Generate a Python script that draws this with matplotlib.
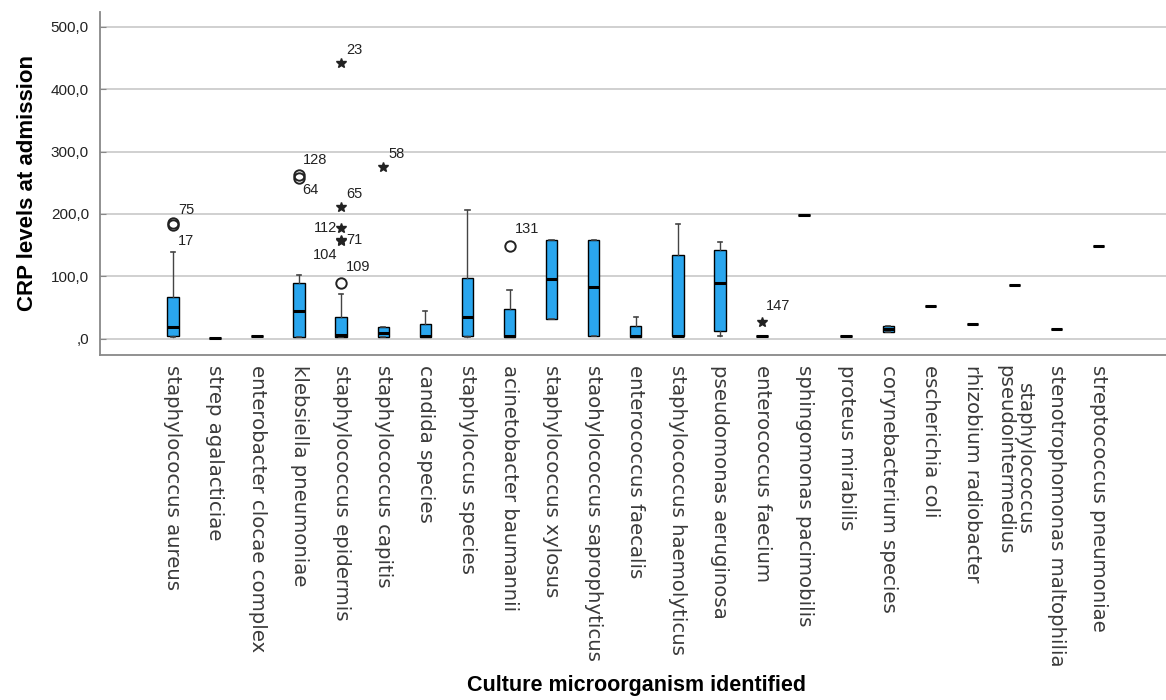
import matplotlib
matplotlib.use("Agg")
from matplotlib import pyplot as plt
from matplotlib.ticker import FuncFormatter

# organisms, in the order shown on the x axis
organisms = [
    "staphylococcus aureus", "strep agalacticiae", "enterobacter clocae complex",
    "klebsiella pneumoniae", "staphylococcus epidermis", "staphylococcus capitis",
    "candida species", "staphyloccus species", "acinetobacter baumannii",
    "staphylococcus xylosus", "staohylococcus saprophyticus", "enterococcus faecalis",
    "staphylococcus haemolyticus", "pseudomonas aeruginosa", "enterococcus faecium",
    "sphingomonas pacimobilis", "proteus mirabilis", "corynebacterium species",
    "escherichia coli", "rhizobium radiobacter", "staphylococcus\npseudointermedius",
    "stenotrophomonas maltophilia", "streptococcus pneumoniae",
]

# box statistics (CRP)
whisker_low = [3, 0.5, 5, 3, 3, 3, 3, 3, 3, 32, 5, 3, 5, 4, 5, 199, 5, 10, 53, 24, 86, 15, 148]
q1 = [5, 0.5, 5, 3, 3, 3, 3, 5, 3, 32, 5, 3, 5, 12, 5, 199, 5, 10, 53, 24, 86, 15, 148]
median = [19, 0.5, 5, 45, 6, 9, 5, 34, 4, 96, 83, 4, 5, 90, 5, 199, 5, 15, 53, 24, 86, 15, 148]
q3 = [67, 0.5, 5, 90, 35, 19, 24, 98, 48, 159, 159, 20, 134, 142, 5, 199, 5, 21, 53, 24, 86, 15, 148]
whisker_high = [139, 0.5, 5, 102, 71, 19, 45, 207, 78, 159, 159, 35, 184, 155, 5, 199, 5, 21, 53, 24, 86, 15, 148]

# outlying cases: category index (1-based), value, case id, kind
out_cat = [1, 1, 4, 4, 5, 5, 5, 5, 5, 5, 6, 9, 15]
out_val = [186, 183, 262, 257, 442, 211, 178, 159, 157, 90, 276, 148, 26]
out_id = ["75", "17", "128", "64", "23", "65", "112", "71", "104", "109", "58", "131", "147"]
out_kind = ["o", "o", "o", "o", "*", "*", "*", "*", "*", "o", "*", "o", "*"]

# where each case label sits relative to its marker (pixels)
label_offsets = [(5, 13), (5, -16), (4, 15), (3, -12), (5, 13), (5, 13), (-4, 0),
                 (5, 0), (-4, -14), (5, 16), (5, 13), (5, 17), (4, 16)]
label_ha = ["left", "left", "left", "left", "left", "left", "right",
            "left", "right", "left", "left", "left", "left"]

stats = []
for i in range(len(organisms)):
    stats.append({
        "whislo": whisker_low[i], "q1": q1[i], "med": median[i],
        "q3": q3[i], "whishi": whisker_high[i], "fliers": [],
    })

fig = plt.figure(figsize=(11.66, 7), dpi=100)
ax = fig.add_axes([0.0858, 0.493, 0.9142, 0.490])

positions = list(range(1, len(organisms) + 1))
ax.bxp(stats, positions=positions, widths=0.27, capwidths=0.1,
       showfliers=False, patch_artist=True,
       boxprops=dict(facecolor="#2aa6ee", edgecolor="black", linewidth=1.0),
       medianprops=dict(color="black", linewidth=2.2),
       whiskerprops=dict(color="#444444", linewidth=1.0),
       capprops=dict(color="#444444", linewidth=1.2))

for c, v, lab, kind, off, ha in zip(out_cat, out_val, out_id, out_kind, label_offsets, label_ha):
    if kind == "o":
        ax.plot(c, v, marker="o", markersize=7.5, markerfacecolor="none",
                markeredgecolor="#222222", markeredgewidth=1.4, linestyle="none")
    else:
        ax.plot(c, v, marker="*", markersize=7, color="#222222", linestyle="none")
    ax.annotate(lab, (c, v), xytext=off, textcoords="offset pixels",
                ha=ha, va="center", fontsize=10.5, family="Liberation Sans", color="#222222")

ax.set_xlim(-0.73, 24.6)
ax.set_ylim(-26, 524)
ax.set_yticks([0, 100, 200, 300, 400, 500])
ax.yaxis.set_major_formatter(FuncFormatter(lambda v, p: ",0" if v == 0 else f"{v:.1f}".replace(".", ",")))
ax.grid(axis="y", color="#c8c8c8", linewidth=1.2)
ax.set_axisbelow(True)

ax.set_xticks(positions)
ax.set_xticklabels(organisms, rotation=-90, fontsize=14.2, family="DejaVu Sans",
                   color="#3a3a3a", va="top", ha="center", linespacing=1.1)
ax.tick_params(axis="x", length=0, pad=7)
ax.tick_params(axis="y", direction="in", length=4, color="#888888", labelsize=11, pad=8)
for lab in ax.get_yticklabels():
    lab.set_family("Liberation Sans")
    lab.set_color("#222222")

for side in ["top", "right"]:
    ax.spines[side].set_visible(False)
for side in ["left", "bottom"]:
    ax.spines[side].set_color("#888888")
    ax.spines[side].set_linewidth(1.3)

ax.set_ylabel("CRP levels at admission", fontsize=16, fontweight="bold",
              family="Liberation Sans", labelpad=9)
fig.text(0.546, 0.021, "Culture microorganism identified", ha="center", va="center",
         fontsize=15.5, fontweight="bold", family="Liberation Sans")

fig.savefig("out.png", dpi=100)
